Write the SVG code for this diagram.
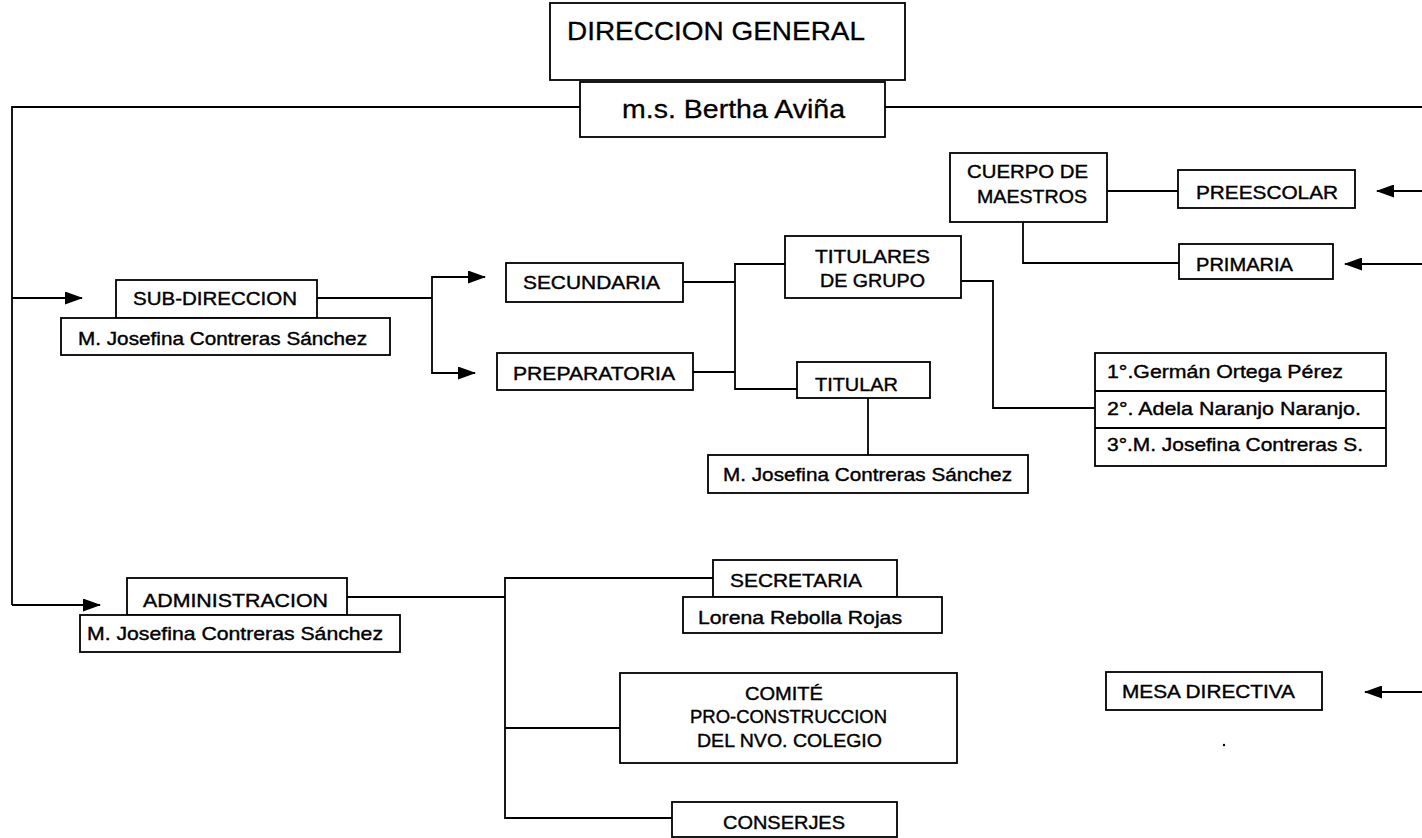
<svg xmlns="http://www.w3.org/2000/svg" width="1422" height="838" viewBox="0 0 1422 838">
<style>
.b{fill:#fff;stroke:#000;stroke-width:1.8}
.c{fill:none;stroke:#000;stroke-width:1.8}
.a{fill:none;stroke:#000;stroke-width:1.8;marker-end:url(#ah)}
text{font-family:"Liberation Sans",Arial,sans-serif;font-size:19px;fill:#000;stroke:#000;stroke-width:0.4}
.big{font-size:26px;stroke-width:0.3}
</style>
<defs>
<marker id="ah" markerUnits="userSpaceOnUse" markerWidth="18" markerHeight="13" refX="17" refY="6.5" orient="auto" viewBox="0 0 18 13">
<path d="M0,0 L18,6.5 L0,13 z" fill="#000"/>
</marker>
</defs>
<rect width="1422" height="838" fill="#fff"/>
<g id="connectors">
<polyline class="c" points="580,107 12,107 12,605"/>
<line class="c" x1="885" y1="107" x2="1422" y2="107"/>
<line class="a" x1="12" y1="298" x2="82" y2="298"/>
<line class="a" x1="12" y1="605" x2="100" y2="605"/>
<line class="c" x1="317" y1="298" x2="432" y2="298"/>
<polyline class="a" points="432,298 432,277 485,277"/>
<polyline class="a" points="432,298 432,373 475,373"/>
<line class="c" x1="683" y1="282" x2="735" y2="282"/>
<line class="c" x1="693" y1="372" x2="735" y2="372"/>
<polyline class="c" points="785,264 735,264 735,389 797,389"/>
<line class="c" x1="868" y1="398" x2="868" y2="455"/>
<polyline class="c" points="961,281 993,281 993,408 1095,408"/>
<line class="c" x1="1107" y1="191" x2="1178" y2="191"/>
<polyline class="c" points="1023,222 1023,263 1179,263"/>
<line class="a" x1="1422" y1="191" x2="1377" y2="191"/>
<line class="a" x1="1422" y1="264" x2="1345" y2="264"/>
<line class="a" x1="1422" y1="692" x2="1365" y2="692"/>
<line class="c" x1="347" y1="597" x2="505" y2="597"/>
<polyline class="c" points="713,578 505,578 505,818 672,818"/>
<line class="c" x1="505" y1="728" x2="620" y2="728"/>
</g>
<g id="direccion-general">
<rect class="b" x="550" y="3" width="355" height="77"/>
<text class="big" x="567" y="40" textLength="298" lengthAdjust="spacingAndGlyphs">DIRECCION GENERAL</text>
</g>
<g id="bertha">
<rect class="b" x="580" y="82" width="305" height="55"/>
<text class="big" x="622" y="118" textLength="223" lengthAdjust="spacingAndGlyphs">m.s. Bertha Aviña</text>
</g>
<g id="sub-direccion">
<rect class="b" x="116" y="280" width="201" height="38"/>
<text x="133" y="305" textLength="164" lengthAdjust="spacingAndGlyphs">SUB-DIRECCION</text>
<rect class="b" x="61" y="318" width="329" height="37"/>
<text x="78" y="345" textLength="289" lengthAdjust="spacingAndGlyphs">M. Josefina Contreras Sánchez</text>
</g>
<g id="secundaria">
<rect class="b" x="506" y="263" width="177" height="39"/>
<text x="523" y="289" textLength="137" lengthAdjust="spacingAndGlyphs">SECUNDARIA</text>
</g>
<g id="preparatoria">
<rect class="b" x="497" y="353" width="196" height="37"/>
<text x="513" y="380" textLength="162" lengthAdjust="spacingAndGlyphs">PREPARATORIA</text>
</g>
<g id="titulares">
<rect class="b" x="785" y="236" width="176" height="62"/>
<text x="815" y="263" textLength="115" lengthAdjust="spacingAndGlyphs">TITULARES</text>
<text x="820" y="287" textLength="105" lengthAdjust="spacingAndGlyphs">DE GRUPO</text>
</g>
<g id="titular">
<rect class="b" x="797" y="362" width="133" height="36"/>
<text x="815" y="391" textLength="83" lengthAdjust="spacingAndGlyphs">TITULAR</text>
</g>
<g id="titular-nombre">
<rect class="b" x="708" y="455" width="320" height="38"/>
<text x="723" y="481" textLength="289" lengthAdjust="spacingAndGlyphs">M. Josefina Contreras Sánchez</text>
</g>
<g id="lista-grupos">
<rect class="b" x="1095" y="353" width="291" height="113"/>
<line class="c" x1="1095" y1="391" x2="1386" y2="391"/>
<line class="c" x1="1095" y1="428" x2="1386" y2="428"/>
<text x="1107" y="378" textLength="236" lengthAdjust="spacingAndGlyphs">1°.Germán Ortega Pérez</text>
<text x="1107" y="415" textLength="254" lengthAdjust="spacingAndGlyphs">2°. Adela Naranjo Naranjo.</text>
<text x="1107" y="451" textLength="256" lengthAdjust="spacingAndGlyphs">3°.M. Josefina Contreras S.</text>
</g>
<g id="cuerpo-maestros">
<rect class="b" x="950" y="153" width="157" height="69"/>
<text x="967" y="178" textLength="121" lengthAdjust="spacingAndGlyphs">CUERPO DE</text>
<text x="977" y="203" textLength="110" lengthAdjust="spacingAndGlyphs">MAESTROS</text>
</g>
<g id="preescolar">
<rect class="b" x="1178" y="170" width="177" height="38"/>
<text x="1196" y="199" textLength="142" lengthAdjust="spacingAndGlyphs">PREESCOLAR</text>
</g>
<g id="primaria">
<rect class="b" x="1179" y="244" width="154" height="35"/>
<text x="1196" y="271" textLength="97" lengthAdjust="spacingAndGlyphs">PRIMARIA</text>
</g>
<g id="administracion">
<rect class="b" x="127" y="578" width="220" height="37"/>
<text x="143" y="607" textLength="185" lengthAdjust="spacingAndGlyphs">ADMINISTRACION</text>
<rect class="b" x="80" y="615" width="320" height="37"/>
<text x="87" y="640" textLength="296" lengthAdjust="spacingAndGlyphs">M. Josefina Contreras Sánchez</text>
</g>
<g id="secretaria">
<rect class="b" x="713" y="560" width="184" height="37"/>
<text x="730" y="587" textLength="132" lengthAdjust="spacingAndGlyphs">SECRETARIA</text>
<rect class="b" x="683" y="597" width="259" height="36"/>
<text x="698" y="624" textLength="204" lengthAdjust="spacingAndGlyphs">Lorena Rebolla Rojas</text>
</g>
<g id="comite">
<rect class="b" x="620" y="673" width="337" height="90"/>
<text x="745" y="700" textLength="78" lengthAdjust="spacingAndGlyphs">COMITÉ</text>
<text x="690" y="723" textLength="197" lengthAdjust="spacingAndGlyphs">PRO-CONSTRUCCION</text>
<text x="697" y="747" textLength="185" lengthAdjust="spacingAndGlyphs">DEL NVO. COLEGIO</text>
</g>
<g id="conserjes">
<rect class="b" x="672" y="802" width="225" height="35"/>
<text x="723" y="829" textLength="122" lengthAdjust="spacingAndGlyphs">CONSERJES</text>
</g>
<g id="mesa-directiva">
<rect class="b" x="1106" y="672" width="216" height="38"/>
<text x="1122" y="698" textLength="173" lengthAdjust="spacingAndGlyphs">MESA DIRECTIVA</text>
</g>
<circle cx="1224" cy="745" r="1.2" fill="#000"/>
</svg>
